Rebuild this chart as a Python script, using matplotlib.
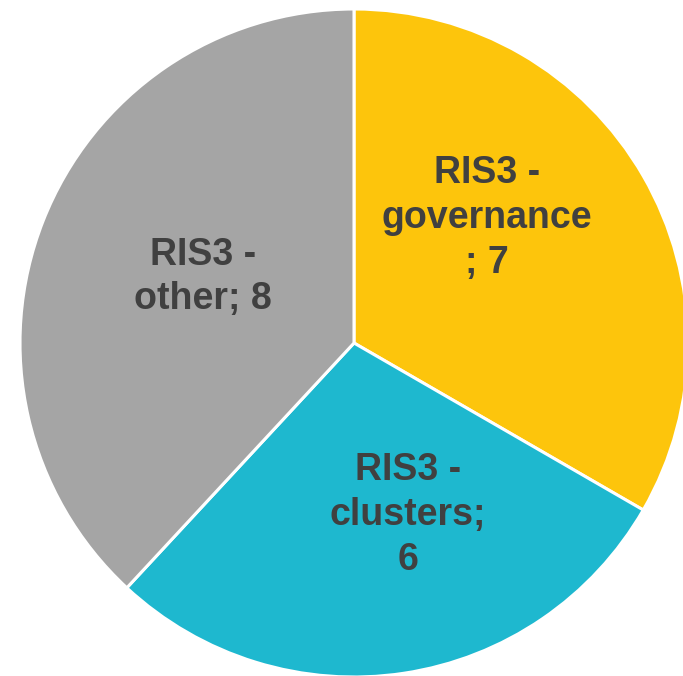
import matplotlib
matplotlib.use('Agg')
import matplotlib.pyplot as plt

# data
categories = ['RIS3 -\ngovernance\n; 7', 'RIS3 -\nclusters;\n6', 'RIS3 -\nother; 8']
values = [7, 6, 8]
colors = ['#FDC50C', '#1EB8CF', '#A5A5A5']

W, H = 683, 676
fig = plt.figure(figsize=(W / 100, H / 100), dpi=100)
ax = fig.add_axes([0, 0, 1, 1])

# pie in pixel units so it can run off the right/bottom edge like the original
cx, cy, r = 354, H - 343, 334
ax.pie(values, colors=colors, startangle=90, counterclock=False,
       center=(cx, cy), radius=r,
       wedgeprops=dict(edgecolor='white', linewidth=2.2))
ax.set_xlim(0, W)
ax.set_ylim(0, H)
ax.set_aspect('equal')
ax.axis('off')

# data labels (offsets from the centre, as placed in the source chart)
label_offsets = [(133, 125), (54, -172), (-151, 66)]
for txt, (dx, dy) in zip(categories, label_offsets):
    ax.text(cx + dx, cy + dy, txt, ha='center', va='center',
            fontsize=27, fontweight='bold', color='#404040',
            family=['Liberation Sans', 'DejaVu Sans'], linespacing=1.32)

plt.savefig('out.png', dpi=100)
